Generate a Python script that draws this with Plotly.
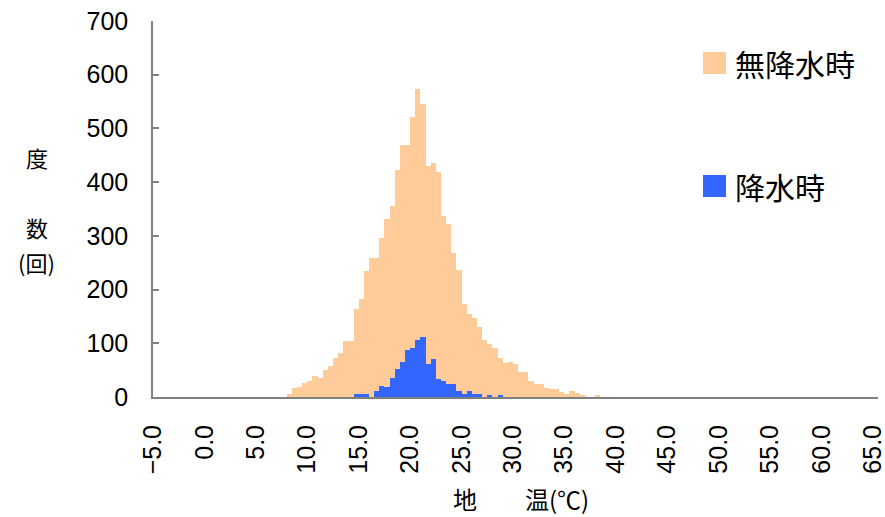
import plotly.graph_objects as go

# ---- data ----
dry_temp = [8.0, 8.5, 9.0, 9.5, 10.0, 10.5, 11.0, 11.5, 12.0, 12.5, 13.0, 13.5, 14.0, 14.5,
            15.0, 15.5, 16.0, 16.5, 17.0, 17.5, 18.0, 18.5, 19.0, 19.5, 20.0, 20.5, 21.0,
            21.5, 22.0, 22.5, 23.0, 23.5, 24.0, 24.5, 25.0, 25.5, 26.0, 26.5, 27.0, 27.5,
            28.0, 28.5, 29.0, 29.5, 30.0, 30.5, 31.0, 31.5, 32.0, 32.5, 33.0, 33.5, 34.0,
            34.5, 35.0, 35.5, 36.0, 36.5, 37.0, 37.5, 38.0]
dry_count = [5, 16, 19, 26, 29, 39, 36, 51, 57, 73, 82, 105, 105, 163,
             182, 235, 258, 258, 296, 332, 355, 422, 470, 470, 521, 574, 546,
             430, 436, 419, 337, 322, 268, 236, 174, 155, 148, 130, 107, 98,
             92, 73, 64, 66, 61, 47, 47, 29, 24, 24, 17, 14, 14,
             9, 6, 11, 8, 4, 0, 0, 3]

rain_temp = [14.5, 15.0, 15.5, 16.0, 16.5, 17.0, 17.5, 18.0, 18.5, 19.0, 19.5, 20.0, 20.5,
             21.0, 21.5, 22.0, 22.5, 23.0, 23.5, 24.0, 24.5, 25.0, 25.5, 26.0, 26.5, 27.0,
             27.5, 28.0, 28.5]
rain_count = [5, 5, 5, 0, 11, 21, 19, 36, 52, 66, 87, 92, 106,
              111, 62, 70, 34, 29, 24, 24, 11, 6, 11, 6, 6, 0,
              3, 0, 3]

x_ticks = [-5, 0, 5, 10, 15, 20, 25, 30, 35, 40, 45, 50, 55, 60, 65]
x_tick_text = [("−%.1f" % abs(v)) if v < 0 else "%.1f" % v for v in x_ticks]
y_ticks = [0, 100, 200, 300, 400, 500, 600, 700]

series_names = ["無降水時", "降水時"]
colors = ["#FFCC99", "#3366FF"]

# ---- layout geometry (pixels) ----
W, H = 885, 517
L, R, T, B = 153, 7, 21, 120
pw, ph = W - L - R, H - T - B


def px_x(p):
    return (p - L) / pw


def px_y(p):
    return (H - B - p) / ph


fig = go.Figure()
fig.add_trace(go.Bar(x=dry_temp, y=dry_count, width=0.5, offset=0,
                     marker=dict(color=colors[0], line=dict(width=0)),
                     name=series_names[0], showlegend=False))
fig.add_trace(go.Bar(x=rain_temp, y=rain_count, width=0.5, offset=0,
                     marker=dict(color=colors[1], line=dict(width=0)),
                     name=series_names[1], showlegend=False))

num_font = "Liberation Sans, Arial, sans-serif"
cjk = "Noto Sans CJK JP, sans-serif"

fig.update_layout(
    width=W, height=H,
    margin=dict(l=L, r=R, t=T, b=B),
    paper_bgcolor="white", plot_bgcolor="white",
    barmode="overlay", bargap=0,
    xaxis=dict(range=[-5, 65.5], tickvals=x_ticks, ticktext=x_tick_text,
               tickangle=-90, tickfont=dict(family=num_font, size=25, color="#000000"),
               showgrid=False, zeroline=False,
               showline=True, linecolor="#808080", linewidth=2, ticks="",
               ticklabelstandoff=16, ticklabeloverflow="allow", automargin=False),
    yaxis=dict(range=[0, 700], tickvals=y_ticks,
               tickfont=dict(family=num_font, size=25, color="#000000"),
               showgrid=False, zeroline=False, showline=True, linecolor="#808080",
               linewidth=1.5, ticks="inside", ticklen=6, tickcolor="#808080",
               tickwidth=1.5, ticklabelstandoff=18, automargin=False),
)

ann = []
for txt, cx, cy in [("度", 37, 157), ("数", 37, 227), ("(回)", 36, 262)]:
    ann.append(dict(text=txt, x=px_x(cx), y=px_y(cy), xref="paper", yref="paper",
                    xanchor="center", yanchor="middle", showarrow=False,
                    font=dict(family=cjk, size=22, color="#000000")))
ann.append(dict(text="地　　温(℃)", x=px_x(521), y=px_y(499), xref="paper", yref="paper",
                xanchor="center", yanchor="middle", showarrow=False,
                font=dict(family=cjk, size=24, color="#000000")))

# legend (drawn manually to match the reference layout)
shapes = []
for name, col, cy in [(series_names[0], colors[0], 63), (series_names[1], colors[1], 186)]:
    shapes.append(dict(type="rect", xref="paper", yref="paper",
                       x0=px_x(703), x1=px_x(726), y0=px_y(cy + 11), y1=px_y(cy - 11),
                       fillcolor=col, line=dict(width=0)))
    ann.append(dict(text=name, x=px_x(733), y=px_y(cy), xref="paper", yref="paper",
                    xanchor="left", yanchor="middle", showarrow=False,
                    font=dict(family=cjk, size=30, color="#000000")))

fig.update_layout(annotations=ann, shapes=shapes)
fig.write_html("out.html")
